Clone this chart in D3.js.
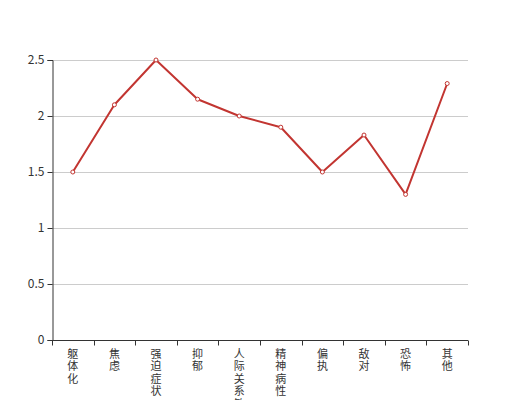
<!DOCTYPE html>
<html>
<head>
<meta charset="utf-8">
<script src="https://cdn.jsdelivr.net/npm/d3@7"></script>
<style>
  body { margin: 0; background: #fff; }
  text { font-family: "Noto Sans CJK SC", "DejaVu Sans", sans-serif; }
</style>
</head>
<body>
<div id="chart"></div>
<script>
const categories = ["躯体化", "焦虑", "强迫症状", "抑郁", "人际关系敏感", "精神病性", "偏执", "敌对", "恐怖", "其他"];
const values = [1.5, 2.1, 2.5, 2.15, 2.0, 1.9, 1.5, 1.83, 1.3, 2.29];
const yTicks = [0, 0.5, 1, 1.5, 2, 2.5];

const svgWidth = 520;
const svgHeight = 400;
const margin = { top: 60, right: 52, bottom: 60, left: 52 };
const width = svgWidth - margin.left - margin.right;
const height = svgHeight - margin.top - margin.bottom;
const color = "#c23531";

const svg = d3.select("#chart")
    .append("svg")
    .attr("width", svgWidth)
    .attr("height", svgHeight)
    .append("g")
    .attr("transform", "translate(" + margin.left + "," + margin.top + ")");

const xScale = d3.scaleBand().domain(categories).range([0, width]);
const yScale = d3.scaleLinear().domain([0, 2.5]).range([height, 0]);

// grid lines
svg.append("g")
    .selectAll("line")
    .data(yTicks.filter(d => d > 0))
    .enter()
    .append("line")
    .attr("x1", 0)
    .attr("x2", width)
    .attr("y1", d => yScale(d) + 0.5)
    .attr("y2", d => yScale(d) + 0.5)
    .attr("stroke", "#ccc")
    .attr("stroke-width", 1);

// y axis
svg.append("g")
    .attr("transform", "translate(0.5,0)")
    .call(d3.axisLeft(yScale).tickValues(yTicks).tickFormat(d => d).tickSize(5).tickPadding(3))
    .call(g => {
        g.select(".domain").attr("stroke", "#333");
        g.selectAll("line").attr("stroke", "#333");
        g.selectAll("text").attr("fill", "#333").attr("font-size", "12px")
            .attr("font-family", "Roboto, 'DejaVu Sans', sans-serif");
    });

// x axis
const xAxis = svg.append("g")
    .attr("transform", "translate(0," + (height + 0.5) + ")");
xAxis.append("line")
    .attr("x1", 0).attr("x2", width)
    .attr("stroke", "#333");
xAxis.selectAll(".tick")
    .data(categories.concat([null]))
    .enter()
    .append("line")
    .attr("x1", (d, i) => Math.round(i * xScale.bandwidth()) + 0.5)
    .attr("x2", (d, i) => Math.round(i * xScale.bandwidth()) + 0.5)
    .attr("y1", 0).attr("y2", 5)
    .attr("stroke", "#333");

// vertical labels, one character per line
xAxis.selectAll(".label")
    .data(categories)
    .enter()
    .append("text")
    .attr("class", "label")
    .attr("fill", "#333")
    .attr("font-size", "11px")
    .attr("text-anchor", "middle")
    .attr("transform", d => "translate(" + (xScale(d) + xScale.bandwidth() / 2) + ",0)")
    .each(function(d) {
        const t = d3.select(this);
        Array.from(d).forEach((ch, i) => {
            t.append("tspan").attr("x", 0).attr("y", 17.5 + i * 12.4).text(ch);
        });
    });

// line
const line = d3.line()
    .x((d, i) => xScale(categories[i]) + xScale.bandwidth() / 2)
    .y(d => yScale(d));

svg.append("path")
    .datum(values)
    .attr("fill", "none")
    .attr("stroke", color)
    .attr("stroke-width", 2)
    .attr("stroke-linejoin", "round")
    .attr("d", line);

svg.append("g")
    .selectAll("circle")
    .data(values)
    .enter()
    .append("circle")
    .attr("cx", (d, i) => xScale(categories[i]) + xScale.bandwidth() / 2)
    .attr("cy", d => yScale(d))
    .attr("r", 2)
    .attr("fill", "#fff")
    .attr("stroke", color)
    .attr("stroke-width", 1);
</script>
</body>
</html>
